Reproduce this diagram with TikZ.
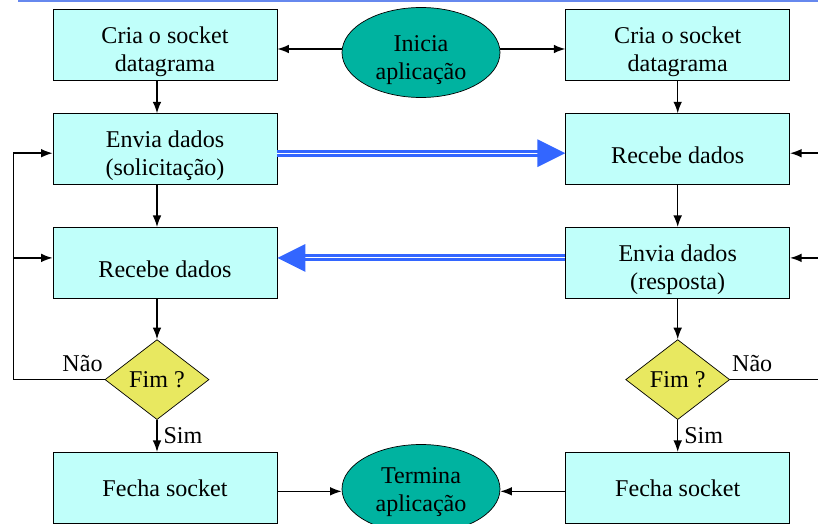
\documentclass[tikz,border=0pt]{standalone}
\usepackage{fontspec}
\setmainfont{Liberation Serif}
\usetikzlibrary{arrows.meta,positioning,shapes.geometric}

\definecolor{ciano}{RGB}{192,255,250}
\definecolor{verdeagua}{RGB}{0,179,160}
\definecolor{amarelo}{RGB}{232,232,96}
\definecolor{azulseta}{RGB}{51,102,255}
\definecolor{azultopo}{RGB}{102,136,238}

\tikzset{
  baixo/.style={execute at begin node={\rule{0pt}{#1}}},
  baixo/.default=16.4pt,
  caixa/.style={draw,fill=ciano,minimum width=4.48cm,minimum height=1.42cm,align=center,inner sep=0pt},
  terminal/.style={draw,ellipse,fill=verdeagua,minimum width=3.16cm,minimum height=1.78cm,inner sep=0pt,align=center},
  decisao/.style={draw,diamond,fill=amarelo,minimum width=2.08cm,minimum height=1.6cm,inner sep=0pt,aspect=1.3},
  fluxo/.style={line width=0.8pt,->},
  dados/.style={draw=azulseta,line width=0.06cm,double=white,double distance=0.02cm,
    -{Triangle[length=0.56cm,width=0.54cm,fill=azulseta]}}
}

\begin{document}
\begin{tikzpicture}[>=Latex,node distance=0.7cm,font=\fontsize{13.7}{16}\selectfont]
  \useasboundingbox (0,0) rectangle (16.36,-10.48);
  \clip (0,0) rectangle (16.36,-10.48);
  \draw[azultopo,line width=0.04cm] (0.36,-0.02) -- (16.5,-0.02);

  % cliente
  \node[caixa,baixo=33.3pt] (criaC) at (3.3,-0.89) {Cria o socket\\datagrama};
  \node[caixa,baixo=33.3pt,below=0.66cm of criaC] (enviaC) {Envia dados\\(solicitação)};
  \node[caixa,baixo,below=0.84cm of enviaC] (recebeC) {Recebe dados};
  \node[decisao,below=0.81cm of recebeC,xshift=-0.16cm] (fimC) {Fim ?};
  \node[caixa,below=0.64cm of fimC,xshift=0.16cm] (fechaC) {Fecha socket};

  % servidor
  \node[caixa,baixo=33.3pt,right=5.76cm of criaC] (criaS) {Cria o socket\\datagrama};
  \node[caixa,baixo,right=5.76cm of enviaC] (recebeS) {Recebe dados};
  \node[caixa,baixo=33.3pt,right=5.76cm of recebeC] (enviaS) {Envia dados\\(resposta)};
  \node[decisao,below=0.81cm of enviaS] (fimS) {Fim ?};
  \node[caixa,right=5.76cm of fechaC] (fechaS) {Fecha socket};

  \node[terminal,baixo=33.3pt] (inicia) at (8.42,-1.05) {Inicia\\aplicação};
  \node[terminal,baixo=29pt] (termina) at (8.42,-9.78) {Termina\\aplicação};

  \draw[fluxo] ([yshift=-0.09cm]criaC.east -| inicia.west) -- ([yshift=-0.09cm]criaC.east);
  \draw[fluxo] ([yshift=-0.09cm]criaS.west -| inicia.east) -- ([yshift=-0.09cm]criaS.west);
  \draw[fluxo] ([yshift=-0.07cm]fechaC.east) -- ([yshift=-0.07cm]fechaC.east -| termina.west);
  \draw[fluxo] ([yshift=-0.07cm]fechaS.west) -- ([yshift=-0.07cm]fechaS.west -| termina.east);

  \draw[fluxo] ([xshift=-0.16cm]criaC.south) -- ([xshift=-0.16cm]enviaC.north);
  \draw[fluxo] ([xshift=-0.16cm]enviaC.south) -- ([xshift=-0.16cm]recebeC.north);
  \draw[fluxo] ([xshift=-0.16cm]recebeC.south) -- (fimC.north);
  \draw[fluxo] (fimC.south) -- node[right] {Sim} ([xshift=-0.16cm]fechaC.north);
  \draw[fluxo] (criaS) -- (recebeS);
  \draw[fluxo] (recebeS) -- (enviaS);
  \draw[fluxo] (enviaS) -- (fimS);
  \draw[fluxo] (fimS) -- node[right] {Sim} (fechaS);

  % laços
  \coordinate (lacoC) at (0.27,0 |- fimC.west);
  \coordinate (lacoS) at (16.6,0 |- fimS.east);
  \draw[fluxo] (fimC.west) -- (lacoC) |- ([yshift=-0.08cm]enviaC.west);
  \draw[fluxo] (lacoC |- recebeC.west) ++(0,0.1) -- ([yshift=0.1cm]recebeC.west);
  \draw[line width=0.8pt] (fimS.east) -- (lacoS);
  \draw[fluxo] ([yshift=-0.08cm]lacoS |- recebeS.east) -- ([yshift=-0.08cm]recebeS.east);
  \draw[fluxo] ([yshift=0.1cm]lacoS |- enviaS.east) -- ([yshift=0.1cm]enviaS.east);
  \node[anchor=south east,inner xsep=1pt,inner ysep=4pt] (naoC) at (fimC.west) {Não};
  \node[anchor=south west,inner xsep=1pt,inner ysep=4pt] (naoS) at (fimS.east) {Não};

  \draw[dados] ([yshift=-0.08cm]enviaC.east) -- ([yshift=-0.08cm]recebeS.west);
  \draw[dados] ([yshift=0.1cm]enviaS.west) -- ([yshift=0.1cm]recebeC.east);
\end{tikzpicture}
\end{document}
